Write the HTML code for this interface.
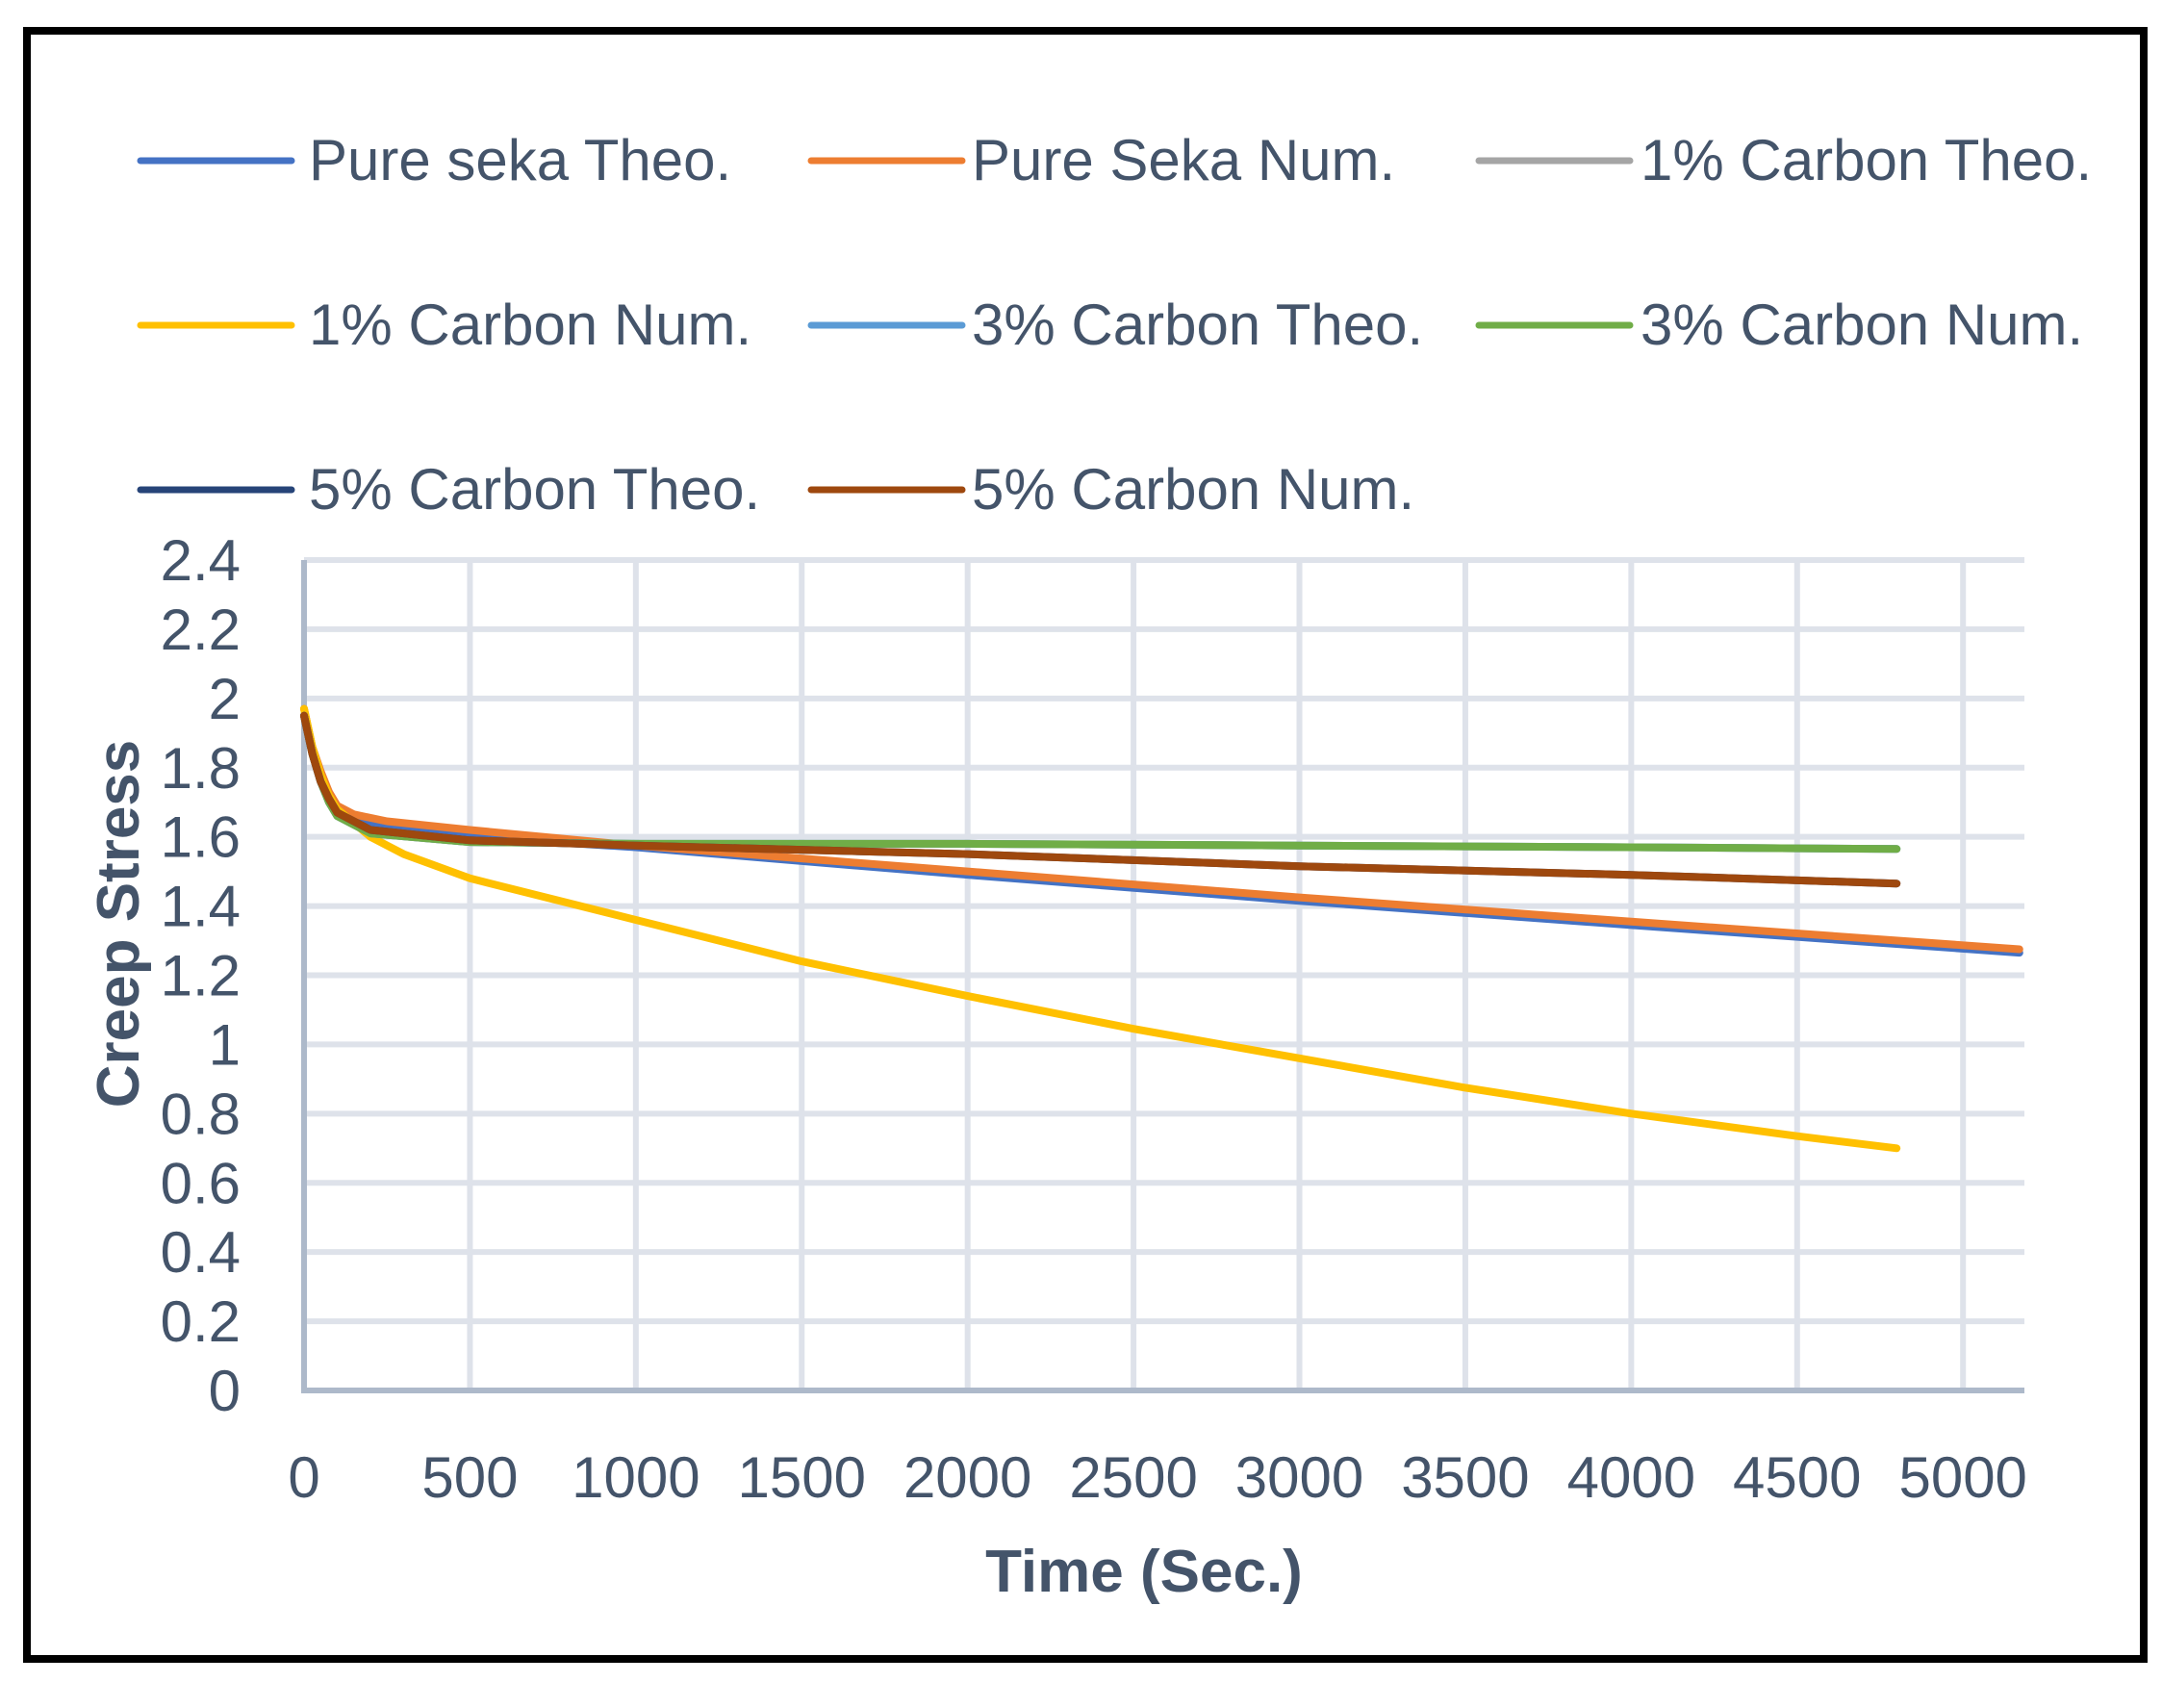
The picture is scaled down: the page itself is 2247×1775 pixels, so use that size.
<!DOCTYPE html>
<html><head><meta charset="utf-8"><style>
html,body{margin:0;padding:0;background:#fff}
svg text{font-family:"Liberation Sans",sans-serif;fill:#44546A}
</style></head><body>
<svg id="chart" width="2247" height="1770" viewBox="0 0 2247 1770" xmlns="http://www.w3.org/2000/svg">
<rect x="28" y="32" width="2200" height="1692" fill="#fff" stroke="#000" stroke-width="8"/>
<g id="grid"></g>
<g id="series"></g>
<g id="ticks"></g>
<g id="legend"></g>
<text transform="translate(144,960) rotate(-90)" text-anchor="middle" font-size="62" font-weight="bold">Creep Stress</text>
<text x="1189" y="1654" text-anchor="middle" font-size="62" font-weight="bold">Time (Sec.)</text>
</svg>
<script>
const xTicks=[0,500,1000,1500,2000,2500,3000,3500,4000,4500,5000];
const yTicks=[0,0.2,0.4,0.6,0.8,1,1.2,1.4,1.6,1.8,2,2.2,2.4];
const yTickLabels=["0","0.2","0.4","0.6","0.8","1","1.2","1.4","1.6","1.8","2","2.2","2.4"];
const seriesNames=["Pure seka Theo.","Pure Seka Num.","1% Carbon Theo.","1% Carbon Num.","3% Carbon Theo.","3% Carbon Num.","5% Carbon Theo.","5% Carbon Num."];
const seriesColors=["#4472C4","#ED7D31","#A5A5A5","#FFC000","#5B9BD5","#70AD47","#264478","#9E480E"];
const pureTheoT=[0,25,50,75,100,150,250,500,1000,2000,3000,4000,5170];
const pureTheoV=[1.95,1.85,1.78,1.72,1.68,1.65,1.63,1.60,1.57,1.49,1.415,1.345,1.265];
const pureNumT=[0,25,50,75,100,150,250,500,1000,2000,3000,4000,5170];
const pureNumV=[1.97,1.86,1.79,1.73,1.69,1.665,1.645,1.62,1.575,1.50,1.425,1.355,1.275];
const c1TheoT=[0,25,50,75,100,200,500,1000,2000,3000,4000,4800];
const c1TheoV=[1.95,1.84,1.76,1.70,1.66,1.61,1.585,1.58,1.58,1.575,1.57,1.565];
const c1NumT=[0,25,50,75,100,200,300,500,1000,1500,2000,2500,3000,3500,4000,4500,4800];
const c1NumV=[1.97,1.86,1.78,1.72,1.68,1.60,1.55,1.48,1.36,1.24,1.14,1.045,0.96,0.875,0.80,0.735,0.70];
const c3TheoT=[0,25,50,75,100,200,500,1000,2000,3000,4000,4800];
const c3TheoV=[1.95,1.84,1.76,1.70,1.66,1.61,1.585,1.58,1.58,1.575,1.57,1.565];
const c3NumT=[0,25,50,75,100,200,500,1000,2000,3000,4000,4800];
const c3NumV=[1.95,1.84,1.76,1.70,1.66,1.61,1.585,1.58,1.58,1.575,1.57,1.565];
const c5TheoT=[0,25,50,75,100,200,500,1000,2000,3000,4000,4800];
const c5TheoV=[1.95,1.84,1.76,1.71,1.67,1.62,1.59,1.575,1.55,1.515,1.49,1.465];
const c5NumT=[0,25,50,75,100,200,500,1000,2000,3000,4000,4800];
const c5NumV=[1.95,1.84,1.76,1.71,1.67,1.62,1.59,1.575,1.55,1.515,1.49,1.465];
const allT=[pureTheoT,pureNumT,c1TheoT,c1NumT,c3TheoT,c3NumT,c5TheoT,c5NumT];
const allV=[pureTheoV,pureNumV,c1TheoV,c1NumV,c3TheoV,c3NumV,c5TheoV,c5NumV];

const NS="http://www.w3.org/2000/svg";
const X0=316,X1=2104,XMAX=5185,Y0=1445,Y1=582,YMAX=2.4;
function sx(t){return X0+(t/XMAX)*(X1-X0);}
function sy(v){return Y0-(v/YMAX)*(Y0-Y1);}
function mk(tag,parent,attrs){const e=document.createElementNS(NS,tag);for(const k in attrs)e.setAttribute(k,attrs[k]);parent.appendChild(e);return e;}
const grid=document.getElementById('grid'),ticks=document.getElementById('ticks'),ser=document.getElementById('series'),leg=document.getElementById('legend');
yTicks.forEach((v,i)=>{
  if(v>0){const l=mk('line',grid,{x1:X0,x2:X1,y1:sy(v),y2:sy(v),stroke:'#DEE2EA','stroke-width':6});
  
  }
  const t=mk('text',ticks,{x:250,y:sy(v)+21,'text-anchor':'end','font-size':60});t.textContent=yTickLabels[i];
  
  
});
xTicks.forEach(v=>{
  if(v>0){const l=mk('line',grid,{x1:sx(v),x2:sx(v),y1:Y1,y2:Y0,stroke:'#DEE2EA','stroke-width':6});
  
  }
  const t=mk('text',ticks,{x:sx(v),y:1556,'text-anchor':'middle','font-size':60});t.textContent=String(v);
  
  
});
const ya=mk('line',grid,{x1:X0,x2:X0,y1:Y1,y2:Y0+3,stroke:'#ADB9CA','stroke-width':6});


const xa=mk('line',grid,{x1:X0-3,x2:X1,y1:Y0,y2:Y0,stroke:'#ADB9CA','stroke-width':6});


allT.forEach((ts,s)=>{
  const pts=ts.map((t,i)=>sx(t).toFixed(1)+','+sy(allV[s][i]).toFixed(1)).join(' ');
  const p=mk('polyline',ser,{points:pts,fill:'none',stroke:seriesColors[s],'stroke-width':8,'stroke-linejoin':'round','stroke-linecap':'round'});
  
  
});
const lx=[146,843,1537],tx=[321,1010,1705],ly=[167,338,509];
seriesNames.forEach((n,i)=>{
  const c=i%3,r=Math.floor(i/3);
  const l=mk('line',leg,{x1:lx[c],x2:lx[c]+157,y1:ly[r],y2:ly[r],stroke:seriesColors[i],'stroke-width':7,'stroke-linecap':'round'});
  
  
  const t=mk('text',leg,{x:tx[c],y:ly[r]+20,'font-size':60});t.textContent=n;
  
  
});
</script>
</body></html>
